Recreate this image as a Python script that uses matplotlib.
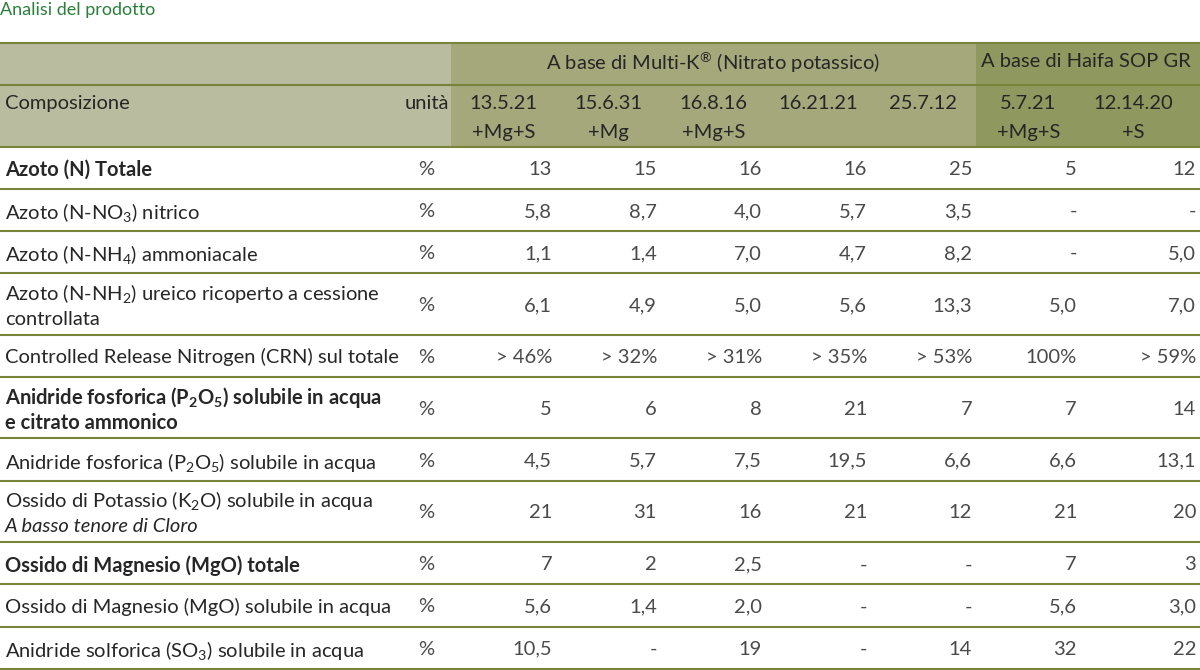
"""Tabella analisi del prodotto (Multi-K / Haifa SOP GR)."""
import matplotlib.pyplot as plt
from matplotlib.patches import Rectangle

plt.rcParams["font.family"] = ["Lato", "DejaVu Sans"]
plt.rcParams["mathtext.fontset"] = "custom"
plt.rcParams["mathtext.rm"] = "Lato"
plt.rcParams["mathtext.it"] = "Lato:italic"
plt.rcParams["mathtext.bf"] = "Lato:bold"

title = "Analisi del prodotto"
group_multik = "A base di Multi-K$^{®}$ (Nitrato potassico)"
group_haifa = "A base di Haifa SOP GR"
products = ["13.5.21\n+Mg+S", "15.6.31\n+Mg", "16.8.16\n+Mg+S", "16.21.21",
            "25.7.12", "5.7.21\n+Mg+S", "12.14.20\n+S"]
n_multik = 5

# each label is a list of lines: (text, style)
labels = [
    [("Azoto (N) Totale", "bold")],
    [("Azoto (N-NO$_3$) nitrico", "normal")],
    [("Azoto (N-NH$_4$) ammoniacale", "normal")],
    [("Azoto (N-NH$_2$) ureico ricoperto a cessione", "normal"),
     ("controllata", "normal")],
    [("Controlled Release Nitrogen (CRN) sul totale", "normal")],
    [("Anidride fosforica (P$_\\mathbf{2}$O$_\\mathbf{5}$) solubile in acqua", "bold"),
     ("e citrato ammonico", "bold")],
    [("Anidride fosforica (P$_2$O$_5$) solubile in acqua", "normal")],
    [("Ossido di Potassio (K$_2$O) solubile in acqua", "normal"),
     ("A basso tenore di Cloro", "italic")],
    [("Ossido di Magnesio (MgO) totale", "bold")],
    [("Ossido di Magnesio (MgO) solubile in acqua", "normal")],
    [("Anidride solforica (SO$_3$) solubile in acqua", "normal")],
]
units = ["%"] * len(labels)

values = [
    ["13", "15", "16", "16", "25", "5", "12"],
    ["5,8", "8,7", "4,0", "5,7", "3,5", "-", "-"],
    ["1,1", "1,4", "7,0", "4,7", "8,2", "-", "5,0"],
    ["6,1", "4,9", "5,0", "5,6", "13,3", "5,0", "7,0"],
    ["> 46%", "> 32%", "> 31%", "> 35%", "> 53%", "100%", "> 59%"],
    ["5", "6", "8", "21", "7", "7", "14"],
    ["4,5", "5,7", "7,5", "19,5", "6,6", "6,6", "13,1"],
    ["21", "31", "16", "21", "12", "21", "20"],
    ["7", "2", "2,5", "-", "-", "7", "3"],
    ["5,6", "1,4", "2,0", "-", "-", "5,6", "3,0"],
    ["10,5", "-", "19", "-", "14", "32", "22"],
]

# colours
c_left = "#b9bc9e"
c_multik = "#a5a87b"
c_haifa = "#8f985e"
c_line = "#77843a"
c_text = "#262626"
c_val = "#4a4a4a"
c_title = "#2a7f3a"

# layout (pixels)
W, H = 1200, 670
y_top = 42.7
y_mid = 85
y_head = 146.7
h_single = 42.2
h_extra = 19.3
line_gap = 27
x_col0 = 451
col_w = 105
unit_x = 426

fig = plt.figure(figsize=(12, 6.7), dpi=100)
ax = fig.add_axes([0, 0, 1, 1])
ax.set_xlim(0, W)
ax.set_ylim(H, 0)
ax.axis("off")

ncol = len(products)
col_left = [x_col0 + col_w * i for i in range(ncol)]
col_right = col_left[1:] + [W]
x_haifa = col_left[n_multik]

ax.text(0, 10, title, color=c_title, fontsize=13, va="center", ha="left")

# header backgrounds
ax.add_patch(Rectangle((0, y_top), x_col0, y_head - y_top, color=c_left, lw=0))
ax.add_patch(Rectangle((x_col0, y_top), x_haifa - x_col0, y_head - y_top,
                       color=c_multik, lw=0))
ax.add_patch(Rectangle((x_haifa, y_top), W - x_haifa, y_head - y_top,
                       color=c_haifa, lw=0))

fs = 14.5
ax.text((x_col0 + x_haifa) / 2, 60, group_multik, fontsize=fs, color=c_text,
        ha="center", va="center_baseline")
ax.text((x_haifa + W) / 2 - 2, 60, group_haifa, fontsize=fs, color=c_text,
        ha="center", va="center_baseline")
ax.text(5, 102, "Composizione", fontsize=fs, color=c_text, ha="left",
        va="center_baseline")
ax.text(449, 102, "unità", fontsize=fs, color=c_text, ha="right",
        va="center_baseline")
for i, p in enumerate(products):
    cx = (col_left[i] + min(col_right[i], 1185)) / 2
    for j, part in enumerate(p.split("\n")):
        ax.text(cx, 102 + 29 * j, part, fontsize=fs, color=c_text,
                ha="center", va="center_baseline")

for y in (y_top, y_mid, y_head):
    ax.axhline(y, color=c_line, lw=1.5)

# body rows
y = y_head
for r, lab in enumerate(labels):
    h = h_single + h_extra * (len(lab) - 1)
    yc = y + h / 2
    y0 = yc - line_gap * (len(lab) - 1) / 2
    for j, (txt, style) in enumerate(lab):
        weight = "bold" if style == "bold" else "normal"
        fstyle = "italic" if style == "italic" else "normal"
        ax.text(5, y0 + line_gap * j, txt, fontsize=fs, color=c_text,
                fontweight=weight, fontstyle=fstyle, ha="left",
                va="center_baseline")
    ax.text(unit_x, yc, units[r], fontsize=fs, color=c_val, ha="center",
            va="center_baseline")
    for i, v in enumerate(values[r]):
        ax.text(col_right[i] - 4, yc, v, fontsize=fs, color=c_val,
                ha="right", va="center_baseline")
    y += h
    ax.axhline(y, color=c_line, lw=1.5)

fig.savefig("out.png", dpi=100)
